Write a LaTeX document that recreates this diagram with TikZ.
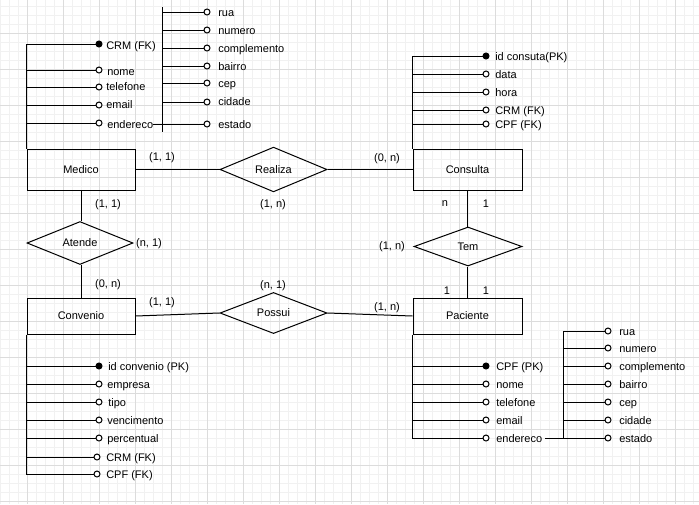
\documentclass[tikz,border=0pt]{standalone}
\usepackage{fontspec}
\setmainfont{Liberation Sans}
\usetikzlibrary{shapes.geometric}
\definecolor{minorc}{RGB}{241,241,241}
\definecolor{majorc}{RGB}{220,220,220}
\begin{document}
\begin{tikzpicture}[x=0.75pt,y=-0.75pt,
  every node/.style={font=\fontsize{8.25pt}{9.9pt}\selectfont},
  conn/.style={draw=black, line width=0.75pt},
  entitybox/.style={draw=black, line width=0.75pt, rectangle, inner sep=0pt, minimum width=81pt},
  relbox/.style={draw=black, line width=0.75pt, diamond, inner sep=0pt, minimum width=80.25pt},
  attr/.style={circle, draw=black, fill=white, line width=0.75pt, inner sep=0pt, minimum size=4.5pt},
  pk/.style={attr, fill=black},
  atxt/.style={anchor=west, inner sep=0pt, text height=6pt, text depth=1.7pt, yshift=-1pt},
  card/.style={inner sep=0pt}
]
\useasboundingbox (0,0) rectangle (699,504);
\fill[white] (0,0) rectangle (699,504);
% grid
\foreach \x in {0,9,...,698} \draw[minorc, line width=0.75pt] (\x,0) -- (\x,504);
\foreach \y in {6,15,...,503} \draw[minorc, line width=0.75pt] (0,\y) -- (699,\y);
\foreach \x in {27,63,...,698} \draw[majorc, line width=0.75pt] (\x,0) -- (\x,504);
\foreach \y in {33,69,...,503} \draw[majorc, line width=0.75pt] (0,\y) -- (699,\y);

% entities
\node[entitybox, minimum height=30.75pt] (medico) at (81,169.5) {Medico};
\node[entitybox, minimum height=30.75pt, minimum width=81.75pt] (consulta) at (467.5,169.5) {Consulta};
\node[entitybox, minimum height=27pt] (convenio) at (81,316) {Convenio};
\node[entitybox, minimum height=27pt, minimum width=81.75pt] (paciente) at (467.5,316) {Paciente};
% relationships
\node[relbox, minimum height=30.75pt] (realiza) at (273.5,169.5) {Realiza};
\node[relbox, minimum height=30pt, minimum width=79.5pt] (atende) at (80,243) {Atende};
\node[relbox, minimum height=30pt] (possui) at (273.5,313) {Possui};
\node[relbox, minimum height=29.25pt, minimum width=81pt] (tem) at (468,246.5) {Tem};

\draw[conn] (medico.east) -- (realiza.west);
\draw[conn] (realiza.east) -- (consulta.west);
\draw[conn] (medico.south) -- (atende.north -| medico.south);
\draw[conn] (atende.south -| convenio.north) -- (convenio.north);
\draw[conn] (convenio.east) -- (possui.west);
\draw[conn] (possui.east) -- (paciente.west);
\draw[conn] (consulta.south) -- (tem.north -| consulta.south);
\draw[conn] (tem.south -| paciente.north) -- (paciente.north);

% cardinalities
\node[card] (c1) at (162,158) {(1, 1)};
\node[card] (c2) at (108,205) {(1, 1)};
\node[card] (c3) at (273,205) {(1, n)};
\node[card] (c4) at (149,244) {(n, 1)};
\node[card] (c5) at (108,285) {(0, n)};
\node[card] (c6) at (273,286) {(n, 1)};
\node[card] (c7) at (162,303) {(1, 1)};
\node[card] (c8) at (387,159) {(0, n)};
\node[card] (c9) at (445,204) {n};
\node[card] (c10) at (486,204) {1};
\node[card] (c11) at (392,247) {(1, n)};
\node[card] (c12) at (447,291) {1};
\node[card] (c13) at (486,291) {1};
\node[card] (c14) at (387,308) {(1, n)};

% Medico attributes
\node[pk] (m1) at (99,44) {};
\node[attr] (m2) at (99,70) {};
\node[attr] (m3) at (99,87) {};
\node[attr] (m4) at (99,105) {};
\node[attr] (m5) at (99,123) {};
\node[atxt] (mt1) at (106,45) {CRM (FK)};
\node[atxt] (mt2) at (107,71) {nome};
\node[atxt] (mt3) at (106,86) {telefone};
\node[atxt] (mt4) at (106,104) {email};
\node[atxt] (mt5) at (107,124) {endereco};
\draw[conn] (medico.north west) -- (medico.north west |- m1) -- (m1);
\foreach \n in {m2,m3,m4,m5} \draw[conn] (\n) -- (\n -| medico.west);
% Medico address
\coordinate (mat) at (162,7);
\coordinate (mab) at (162,132);
\draw[conn] (mat) -- (mab);
\node[attr] (ma1) at (207,12) {};
\node[attr] (ma2) at (207,30) {};
\node[attr] (ma3) at (207,48) {};
\node[attr] (ma4) at (207,66) {};
\node[attr] (ma5) at (207,83) {};
\node[attr] (ma6) at (207,102) {};
\node[attr] (ma7) at (207,124) {};
\node[atxt] at (218,12) {rua};
\node[atxt] at (218,30) {numero};
\node[atxt] at (218,48) {complemento};
\node[atxt] at (218,66) {bairro};
\node[atxt] at (218,83) {cep};
\node[atxt] at (218,101) {cidade};
\node[atxt] at (218,124) {estado};
\foreach \n in {ma1,ma2,ma3,ma4,ma5,ma6} \draw[conn] (\n) -- (\n -| mat);
\draw[conn] (mt5.east |- ma7) -- (ma7);

% Consulta attributes
\node[pk] (k1) at (486,56) {};
\node[attr] (k2) at (486,74) {};
\node[attr] (k3) at (486,92) {};
\node[attr] (k4) at (486,110) {};
\node[attr] (k5) at (486,124) {};
\node[atxt] at (495,56) {id consuta(PK)};
\node[atxt] at (495,74) {data};
\node[atxt] at (495,92) {hora};
\node[atxt] at (495,110) {CRM (FK)};
\node[atxt] at (495,124) {CPF (FK)};
\draw[conn] (consulta.north west) -- (consulta.north west |- k1) -- (k1);
\foreach \n in {k2,k3,k4,k5} \draw[conn] (\n) -- (\n -| consulta.west);

% Convenio attributes
\node[pk] (v1) at (99,366) {};
\node[attr] (v2) at (99,384) {};
\node[attr] (v3) at (99,402) {};
\node[attr] (v4) at (99,420) {};
\node[attr] (v5) at (99,438) {};
\node[attr] (v6) at (97,457) {};
\node[attr] (v7) at (97,474) {};
\node[atxt] at (108,366) {id convenio (PK)};
\node[atxt] at (107,384) {empresa};
\node[atxt] at (108,402) {tipo};
\node[atxt] at (107,420) {vencimento};
\node[atxt] at (107,438) {percentual};
\node[atxt] at (106,457) {CRM (FK)};
\node[atxt] at (106,474) {CPF (FK)};
\draw[conn] (convenio.south west) -- (convenio.south west |- v7) -- (v7);
\foreach \n in {v1,v2,v3,v4,v5,v6} \draw[conn] (\n) -- (\n -| convenio.west);

% Paciente attributes
\node[pk] (p1) at (486,366) {};
\node[attr] (p2) at (486,384) {};
\node[attr] (p3) at (486,402) {};
\node[attr] (p4) at (486,420) {};
\node[attr] (p5) at (486,438) {};
\node[atxt] at (496,366) {CPF (PK)};
\node[atxt] at (496,384) {nome};
\node[atxt] at (496,402) {telefone};
\node[atxt] at (496,420) {email};
\node[atxt] (pt5) at (496,438) {endereco};
\draw[conn] (paciente.south west) -- (paciente.south west |- p5) -- (p5);
\foreach \n in {p1,p2,p3,p4} \draw[conn] (\n) -- (\n -| paciente.west);
% Paciente address
\coordinate (pat) at (563,331);
\coordinate (pab) at (563,439);
\draw[conn] (pat) -- (pab);
\node[attr] (pa1) at (608,331) {};
\node[attr] (pa2) at (608,348) {};
\node[attr] (pa3) at (608,366) {};
\node[attr] (pa4) at (608,384) {};
\node[attr] (pa5) at (608,402) {};
\node[attr] (pa6) at (608,420) {};
\node[attr] (pa7) at (608,438) {};
\node[atxt] at (619,331) {rua};
\node[atxt] at (619,348) {numero};
\node[atxt] at (619,366) {complemento};
\node[atxt] at (619,384) {bairro};
\node[atxt] at (619,402) {cep};
\node[atxt] at (619,420) {cidade};
\node[atxt] at (619,438) {estado};
\draw[conn] (pat) -- (pa1);
\foreach \n in {pa2,pa3,pa4,pa5,pa6} \draw[conn] (\n) -- (\n -| pat);
\draw[conn] ([xshift=2.25pt]pt5.east |- pa7) -- (pa7);
\end{tikzpicture}
\end{document}
